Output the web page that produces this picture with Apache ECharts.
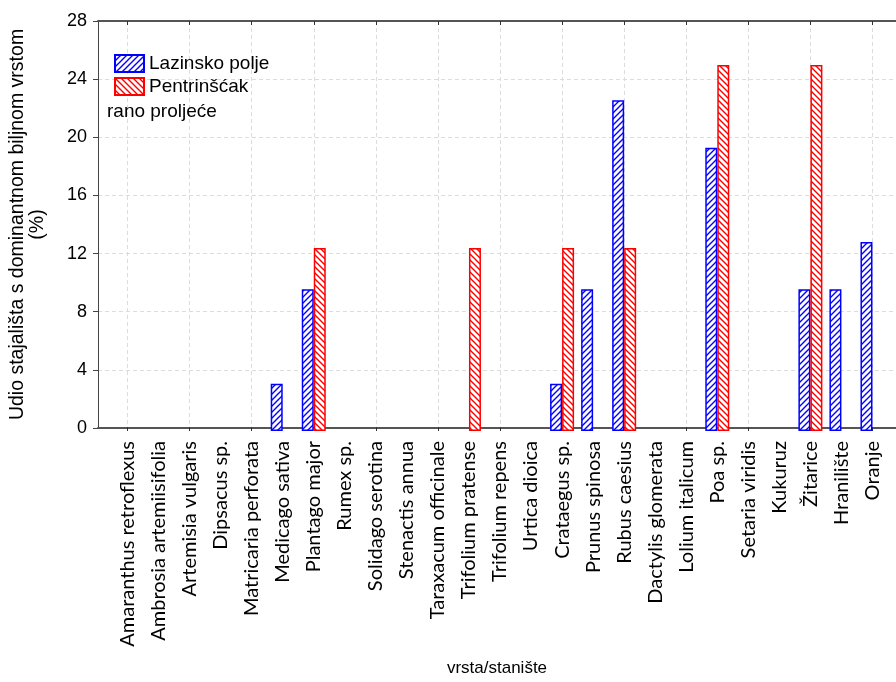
<!DOCTYPE html>
<html>
<head>
<meta charset="utf-8">
<script src="https://cdn.jsdelivr.net/npm/echarts@6/dist/echarts.min.js"></script>
<style>
  html, body { margin: 0; padding: 0; background: #fff; }
  #chart { width: 896px; height: 682px; }
</style>
</head>
<body>
<div id="chart"></div>
<script>
// vrste / staništa
const categories = [
  'Amaranthus retroflexus', 'Ambrosia artemiisifolia', 'Artemisia vulgaris', 'Dipsacus sp.',
  'Matricaria perforata', 'Medicago sativa', 'Plantago major', 'Rumex sp.', 'Solidago serotina',
  'Stenactis annua', 'Taraxacum officinale', 'Trifolium pratense', 'Trifolium repens',
  'Urtica dioica', 'Crataegus sp.', 'Prunus spinosa', 'Rubus caesius', 'Dactylis glomerata',
  'Lolium italicum', 'Poa sp.', 'Setaria viridis', 'Kukuruz', 'Žitarice', 'Hranilište', 'Oranje'
]
const lazinsko = [0, 0, 0, 0, 0, 3.23, 9.68, 0, 0, 0, 0, 0, 0, 0, 3.23, 9.68, 22.58, 0, 0, 19.35, 0, 0, 9.68, 9.68, 12.9]
const pentrinscak = [0, 0, 0, 0, 0, 0, 12.5, 0, 0, 0, 0, 12.5, 0, 0, 12.5, 0, 12.5, 0, 0, 25, 0, 0, 25, 0, 0]
const yTicks = [0, 4, 8, 12, 16, 20, 24, 28]

function hatch(color, forward) {
  const c = document.createElement('canvas')
  c.width = 6
  c.height = 6
  const ctx = c.getContext('2d')
  ctx.fillStyle = '#fff'
  ctx.fillRect(0, 0, 6, 6)
  ctx.strokeStyle = color
  ctx.lineWidth = 1.4
  ctx.beginPath()
  if (forward) {
    ctx.moveTo(-1, 7); ctx.lineTo(7, -1)
    ctx.moveTo(-1, 1); ctx.lineTo(1, -1)
    ctx.moveTo(5, 7); ctx.lineTo(7, 5)
  } else {
    ctx.moveTo(-1, -1); ctx.lineTo(7, 7)
    ctx.moveTo(5, -1); ctx.lineTo(7, 1)
    ctx.moveTo(-1, 5); ctx.lineTo(1, 7)
  }
  ctx.stroke()
  return { image: c, repeat: 'repeat' }
}

const font = 'Liberation Sans, Arial, sans-serif'
const gridLine = { show: true, lineStyle: { color: '#dcdcdc', type: [4, 3], width: 1 } }
const everyOther = (i) => i % 2 === 0

const chart = echarts.init(document.getElementById('chart'))
chart.setOption({
  animation: false,
  textStyle: { fontFamily: font, color: '#000' },
  title: {
    text: 'rano proljeće',
    left: 102, top: 97,
    textStyle: { fontFamily: font, fontSize: 19, fontWeight: 'normal', color: '#000' }
  },
  legend: {
    left: 109, top: 49, orient: 'vertical', icon: 'rect',
    itemWidth: 29, itemHeight: 17, itemGap: 4,
    textStyle: { fontFamily: font, fontSize: 19, color: '#000' },
    data: ['Lazinsko polje', 'Pentrinšćak']
  },
  grid: [
    { left: 97, right: 0, top: 21, bottom: 251 },
    { left: 112, right: 8, top: 21, bottom: 251 }
  ],
  xAxis: [
    {
      gridIndex: 0, type: 'value', min: 0, max: 1, position: 'bottom',
      axisLine: { show: true, lineStyle: { color: '#555', width: 2 } },
      axisTick: { show: false }, axisLabel: { show: false }, splitLine: { show: false },
      name: 'vrsta/stanište', nameLocation: 'middle', nameGap: 232,
      nameTextStyle: { fontFamily: font, fontSize: 17, color: '#000' }
    },
    {
      gridIndex: 0, type: 'value', min: 0, max: 1, position: 'top',
      axisLine: { show: true, lineStyle: { color: '#555', width: 2 } },
      axisTick: { show: false }, axisLabel: { show: false }, splitLine: { show: false }
    },
    {
      gridIndex: 1, type: 'category', data: categories, position: 'bottom',
      axisLine: { show: false },
      axisTick: { show: true, inside: true, length: 4, alignWithLabel: true, interval: everyOther, lineStyle: { color: '#333' } },
      axisLabel: { interval: 0, rotate: 90, margin: 10, fontFamily: 'Lato', fontSize: 20, color: '#000' },
      splitLine: Object.assign({ interval: everyOther, alignWithLabel: true }, gridLine)
    },
    {
      gridIndex: 1, type: 'category', data: categories, position: 'top',
      axisLine: { show: false },
      axisTick: { show: true, inside: true, length: 4, alignWithLabel: true, interval: everyOther, lineStyle: { color: '#333' } },
      axisLabel: { show: false }, splitLine: { show: false }
    }
  ],
  yAxis: [
    {
      gridIndex: 0, type: 'value', min: 0, max: 28, interval: 4,
      axisLine: { show: true, lineStyle: { color: '#444', width: 1 } },
      axisTick: { show: true, length: 5, lineStyle: { color: '#444' } },
      axisLabel: { margin: 11, fontFamily: font, fontSize: 18, color: '#000',
        formatter: (v) => (yTicks.includes(v) ? String(v) : '') },
      splitLine: gridLine,
      name: 'Udio stajališta s dominantnom biljnom vrstom\n(%)',
      nameLocation: 'middle', nameRotate: 90, nameGap: 50,
      nameTextStyle: { fontFamily: font, fontSize: 19.5, color: '#000', lineHeight: 20 }
    },
    { gridIndex: 1, type: 'value', min: 0, max: 28, interval: 4, show: false }
  ],
  series: [
    {
      name: 'Lazinsko polje', type: 'bar', xAxisIndex: 2, yAxisIndex: 1,
      barWidth: 12, barGap: '0%',
      itemStyle: { color: hatch('#0000ff', true), borderColor: '#0000ff', borderWidth: 1.5 },
      data: lazinsko.map((v) => (v === 0 ? '-' : v))
    },
    {
      name: 'Pentrinšćak', type: 'bar', xAxisIndex: 2, yAxisIndex: 1,
      barWidth: 12, barGap: '0%',
      itemStyle: { color: hatch('#ff0000', false), borderColor: '#ff0000', borderWidth: 1.5 },
      data: pentrinscak.map((v) => (v === 0 ? '-' : v))
    }
  ]
})
</script>
</body>
</html>
